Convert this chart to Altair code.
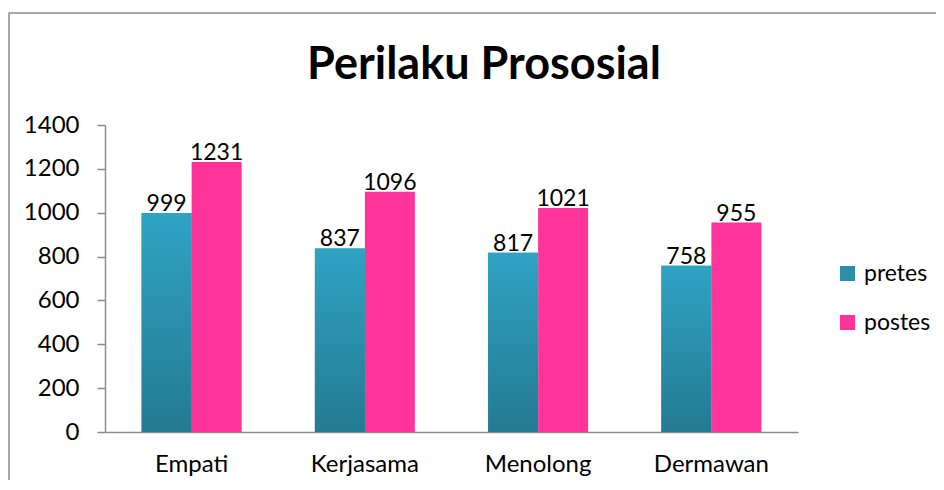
import altair as alt
import pandas as pd

categories = ["Empati", "Kerjasama", "Menolong", "Dermawan"]
series = ["pretes", "postes"]
pretes = [999, 837, 817, 758]
postes = [1231, 1096, 1021, 955]
y_ticks = [0, 200, 400, 600, 800, 1000, 1200, 1400]
title_text = "Perilaku Prososial"

rows = []
for i, c in enumerate(categories):
    rows.append({"kategori": c, "seri": "pretes", "nilai": pretes[i]})
    rows.append({"kategori": c, "seri": "postes", "nilai": postes[i]})
df = pd.DataFrame(rows)

FONT = "Lato"
AXIS_GRAY = "#8c8c8c"

x = alt.X(
    "kategori:N", sort=categories,
    scale=alt.Scale(paddingInner=0, paddingOuter=0),
    axis=alt.Axis(title=None, labelAngle=0, ticks=False, domainColor=AXIS_GRAY,
                  domainWidth=1.5, labelFontSize=24, labelPadding=20,
                  labelColor="black", labelFont=FONT),
)
xo = alt.XOffset("seri:N", sort=series,
                 scale=alt.Scale(domain=series, paddingInner=0, paddingOuter=0.7325))
y = alt.Y(
    "nilai:Q", scale=alt.Scale(domain=[0, 1400]),
    axis=alt.Axis(title=None, values=y_ticks, format="d", grid=False, domainColor=AXIS_GRAY,
                  domainWidth=1.5, tickColor=AXIS_GRAY, tickWidth=1.5, tickSize=8,
                  labelFontSize=24, labelPadding=18, labelColor="black", labelFont=FONT),
)

base = alt.Chart(df).encode(x=x, xOffset=xo, y=y)

bars = base.mark_bar().encode(
    color=alt.Color(
        "seri:N", sort=series,
        scale=alt.Scale(domain=series, range=["#2a8eaa", "#ff3399"]),
        legend=alt.Legend(title=None, orient="none", legendX=731, legendY=137,
                          symbolType="square", symbolSize=225, symbolStrokeWidth=0,
                          labelFontSize=23, labelFont=FONT, labelColor="black",
                          labelOffset=5, rowPadding=25, padding=0),
    )
)

grad = base.transform_filter(alt.datum.seri == "pretes").mark_bar(
    color=alt.Gradient(
        gradient="linear", x1=0, y1=0, x2=0, y2=1,
        stops=[alt.GradientStop(color="#2fa3c3", offset=0),
               alt.GradientStop(color="#247a92", offset=1)],
    )
)

labels = base.mark_text(baseline="alphabetic", dy=-2, fontSize=23, font=FONT,
                        color="black").encode(text="nilai:Q")

frame_df = pd.DataFrame({"k": [0]})
frame = alt.Chart(frame_df).mark_rect(fill="transparent", stroke="#8a8a8a",
                                      strokeWidth=1.5).encode(
    x=alt.value(-96), x2=alt.value(2000), y=alt.value(-112), y2=alt.value(1000)
)

title = alt.Chart(frame_df).mark_text(
    fontSize=45, fontWeight="bold", font=FONT, color="black",
    align="center", baseline="alphabetic"
).encode(x=alt.value(379), y=alt.value(-46), text=alt.value(title_text))

chart = alt.layer(frame, bars, grad, labels, title).properties(
    width=693, height=307,
    autosize=alt.AutoSizeParams(type="none"),
    padding={"left": 97, "top": 117, "right": 138, "bottom": 48},
    background="white",
).configure_view(stroke=None)

chart.save("out.html", embed_options={"renderer": "svg", "actions": False})
